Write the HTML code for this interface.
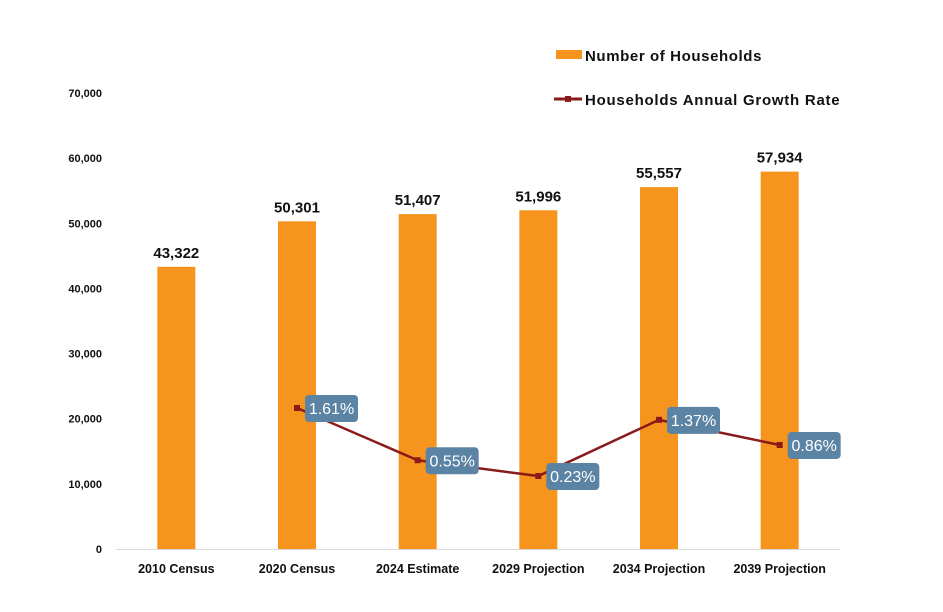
<!DOCTYPE html>
<html><head><meta charset="utf-8"><style>
body{margin:0;background:#fff;}
svg text{font-family:"Liberation Sans",sans-serif;}
</style></head><body>
<svg id="chart" width="943" height="607" viewBox="0 0 943 607">
<g id="legend">
 <rect x="556" y="50" width="26" height="9" fill="#f7941d"/>
 <text x="585" y="61" font-size="15" font-weight="bold" letter-spacing="0.6" fill="#111">Number of Households</text>
 <line x1="554" y1="99" x2="582" y2="99" stroke="#8b1a1a" stroke-width="3"/>
 <rect x="565" y="96" width="6" height="6" fill="#8b1a1a"/>
 <text x="585" y="105" font-size="15" font-weight="bold" letter-spacing="0.75" fill="#111">Households Annual Growth Rate</text>
</g>
<g id="yaxis"></g><g id="bars"></g><g id="line"></g>
</svg>
<script>
const categories=["2010 Census","2020 Census","2024 Estimate","2029 Projection","2034 Projection","2039 Projection"];
const households=[43322,50301,51407,51996,55557,57934];
const growthRates=[null,1.61,0.55,0.23,1.37,0.86];
const yTicks=[0,10000,20000,30000,40000,50000,60000,70000];
const NS="http://www.w3.org/2000/svg";
const y0=549,y1=93,yMax=70000;
const yScale=v=>y0-(v/yMax)*(y0-y1);
const rMin=-1.25,rMax=8;
const rScale=r=>y0-((r-rMin)/(rMax-rMin))*(y0-y1);
const xLeft=116,xRight=840,band=(xRight-xLeft)/categories.length;
const xScale=i=>xLeft+band*(i+0.5);
function mk(tag,attrs,parent,txt){const e=document.createElementNS(NS,tag);for(const k in attrs)e.setAttribute(k,attrs[k]);if(txt!==undefined)e.textContent=txt;parent.appendChild(e);return e;}
const ya=document.getElementById('yaxis');
yTicks.forEach(t=>{
 const e=mk('text',{x:102,y:yScale(t)+4,'font-size':11,'font-weight':'bold','text-anchor':'end',fill:'#111'},ya,t.toLocaleString('en-US'));
 
 
});
const ax=mk('line',{x1:xLeft,y1:y0+0.5,x2:xRight,y2:y0+0.5,stroke:'#d9d9d9','stroke-width':1},ya);


const bg=document.getElementById('bars');
households.forEach((v,i)=>{
 const cx=xScale(i);
 const r=mk('rect',{x:cx-19,y:yScale(v),width:38,height:y0-yScale(v),fill:'#f7941d'},bg);
 
 
 const l=mk('text',{x:cx,y:yScale(v)-9,'font-size':15,'font-weight':'bold','text-anchor':'middle',fill:'#111'},bg,v.toLocaleString('en-US'));
 
 
 const c=mk('text',{x:cx,y:573,'font-size':12.5,'font-weight':'bold','text-anchor':'middle',fill:'#111'},bg,categories[i]);
 
 
});
const lg=document.getElementById('line');
const pts=[];growthRates.forEach((r,i)=>{if(r!==null)pts.push([xScale(i),rScale(r),r]);});
const pl=mk('polyline',{points:pts.map(p=>p[0]+','+p[1]).join(' '),fill:'none',stroke:'#8b1a1a','stroke-width':2.5},lg);


pts.forEach(p=>{
 const m=mk('rect',{x:p[0]-3,y:p[1]-3,width:6,height:6,fill:'#8b1a1a'},lg);
 
 
 const b=mk('rect',{x:p[0]+8,y:p[1]-13,width:53,height:27,rx:4,fill:'#5b83a3'},lg);
 
 
 const t=mk('text',{x:p[0]+34.5,y:p[1]+6,'font-size':16,'text-anchor':'middle',fill:'#fff'},lg,p[2].toFixed(2)+'%');
 
 
});
</script>
</body></html>
